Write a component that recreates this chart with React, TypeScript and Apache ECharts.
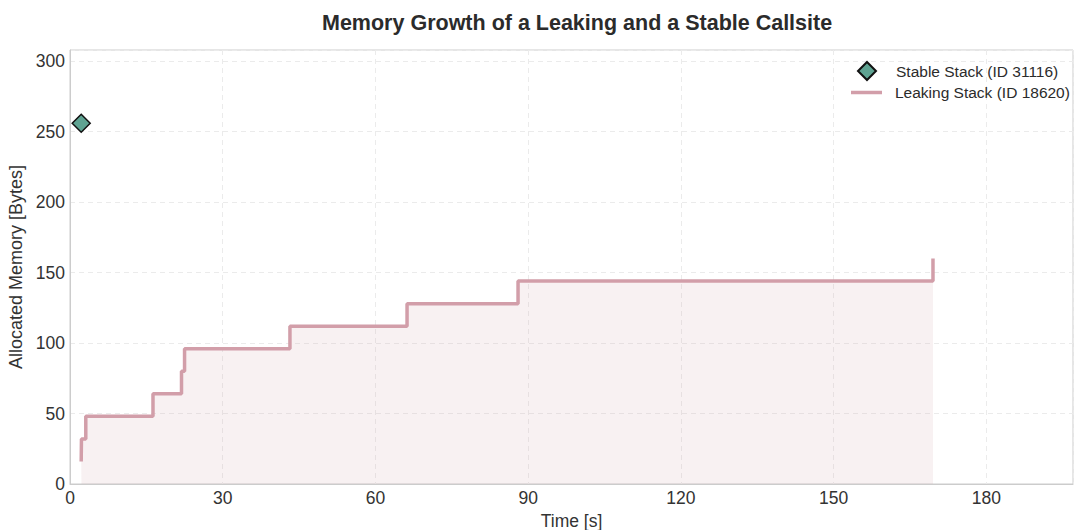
import React, { useEffect, useRef } from "react";
import * as echarts from "echarts";

const leakTimes = [2.2, 2.25, 3.1, 16.3, 21.9, 22.5, 43.2, 66.2, 88.0, 169.5];
const leakBytes = [16, 32, 48, 64, 80, 96, 112, 128, 144, 160];
const stableTimes = [2.2];
const stableBytes = [256];

const FONT = "'Liberation Sans', Arial, sans-serif";
const LEAK_COLOR = "#d29ea9";
const STABLE_COLOR = "#5fa392";

export default function App() {
  const ref = useRef<HTMLDivElement>(null);
  useEffect(() => {
    if (!ref.current) return;
    const chart = echarts.init(ref.current, undefined, { renderer: "svg" });
    chart.setOption({
      animation: false,
      textStyle: { fontFamily: FONT },
      title: {
        text: "Memory Growth of a Leaking and a Stable Callsite",
        left: 317,
        top: 7,
        textStyle: { fontSize: 21.5, fontWeight: "bold", color: "#2b2b2b", fontFamily: FONT },
      },
      grid: {
        left: 70,
        right: 1,
        top: 50,
        bottom: 46,
        outerBoundsMode: "none",
        containLabel: false,
        show: true,
        borderColor: "#cccccc",
        borderWidth: 1,
        backgroundColor: "transparent",
      },
      legend: [
        {
          orient: "vertical",
          left: 852,
          top: 56,
          itemWidth: 18,
          itemHeight: 18,
          itemGap: 5,
          textStyle: { fontSize: 15.5, color: "#2b2b2b", fontFamily: FONT, padding: [0, 0, 0, 15] },
          data: [{ name: "Stable Stack (ID 31116)", icon: "diamond" }],
        },
        {
          orient: "vertical",
          left: 846,
          top: 79.5,
          itemWidth: 31,
          itemHeight: 3.5,
          itemGap: 5,
          textStyle: { fontSize: 15.5, color: "#2b2b2b", fontFamily: FONT, padding: [0, 0, 0, 8] },
          data: [{ name: "Leaking Stack (ID 18620)", icon: "rect" }],
        },
      ],
      xAxis: {
        type: "value",
        min: 0,
        max: 197,
        interval: 30,
        name: "Time [s]",
        nameLocation: "middle",
        nameGap: 26,
        nameTextStyle: { fontSize: 17.5, color: "#333", fontFamily: FONT },
        axisLine: { show: true, lineStyle: { color: "#cccccc" } },
        axisTick: { show: false },
        axisLabel: { fontSize: 17.5, color: "#333", margin: 5, showMaxLabel: false, fontFamily: FONT },
        splitLine: { show: true, lineStyle: { color: "#ebebeb", type: [5, 4] } },
      },
      yAxis: {
        type: "value",
        min: 0,
        max: 308,
        interval: 50,
        name: "Allocated Memory [Bytes]",
        nameLocation: "middle",
        nameGap: 44,
        nameTextStyle: { fontSize: 18, color: "#333", fontFamily: FONT },
        axisLine: { show: true, lineStyle: { color: "#cccccc" } },
        axisTick: { show: false },
        axisLabel: { fontSize: 17.5, color: "#333", margin: 5, showMaxLabel: false, fontFamily: FONT },
        splitLine: { show: true, lineStyle: { color: "#ebebeb", type: [5, 4] } },
      },
      series: [
        {
          name: "Leaking Stack (ID 18620)",
          type: "line",
          step: "end",
          showSymbol: false,
          symbol: "none",
          data: leakTimes.map((t, i) => [t, leakBytes[i]]),
          lineStyle: { color: LEAK_COLOR, width: 3.5 },
          itemStyle: { color: LEAK_COLOR },
          areaStyle: { color: LEAK_COLOR, opacity: 0.15 },
          z: 2,
        },
        {
          name: "Stable Stack (ID 31116)",
          type: "scatter",
          symbol: "diamond",
          symbolSize: 18,
          data: stableTimes.map((t, i) => [t, stableBytes[i]]),
          itemStyle: { color: STABLE_COLOR, opacity: 1, borderColor: "#111", borderWidth: 1.5 },
          z: 3,
        },
      ],
    });
    return () => chart.dispose();
  }, []);
  return <div ref={ref} style={{ width: 1074, height: 530, position: "absolute", left: 0, top: 0 }} />;
}
